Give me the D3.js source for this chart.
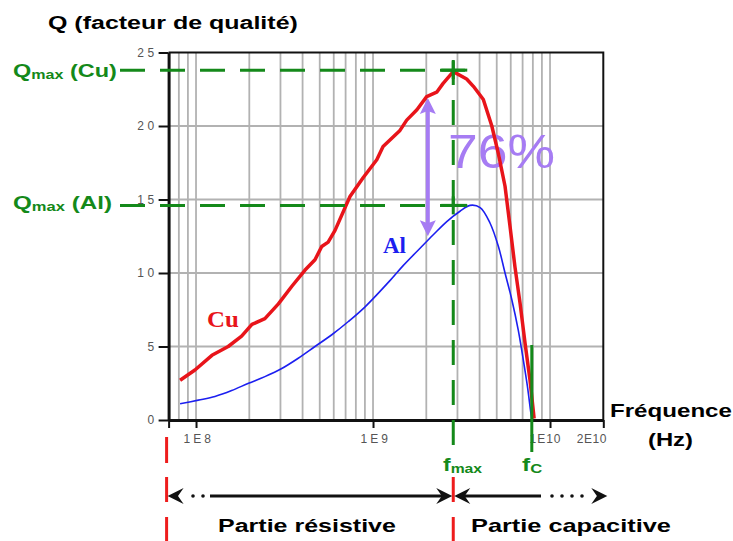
<!DOCTYPE html>
<html>
<head>
<meta charset="utf-8">
<script src="https://cdn.jsdelivr.net/npm/d3@7"></script>
<style>
  html, body { margin: 0; padding: 0; background: #fff; }
  svg { display: block; }
</style>
</head>
<body>
<svg id="chart" width="733" height="541"></svg>
<script>
// Quality factor Q of a copper and an aluminium line versus frequency (Hz)
const cuFreq = [8.13e7, 9.86e7, 1.23e8, 1.52e8, 1.81e8, 2.07e8, 2.45e8, 2.92e8, 3.48e8, 4.13e8,
                4.70e8, 5.13e8, 5.58e8, 6.10e8, 7.41e8, 8.81e8, 1.05e9, 1.14e9, 1.42e9, 1.55e9,
                1.77e9, 2.01e9, 2.29e9, 2.49e9, 2.84e9, 3.38e9, 3.69e9, 4.20e9, 4.69e9, 5.11e9,
                5.57e9, 5.94e9, 6.34e9, 6.78e9, 7.23e9, 7.71e9, 8.13e9];
const cuQ    = [2.7, 3.4, 4.4, 5.0, 5.7, 6.5, 6.9, 7.9, 9.1, 10.2,
                10.9, 11.8, 12.1, 12.9, 15.2, 16.5, 17.7, 18.6, 19.7, 20.4,
                21.1, 22.0, 22.3, 22.9, 23.7, 23.2, 22.7, 21.8, 20.0, 18.1,
                15.9, 13.2, 10.4, 7.9, 5.2, 2.7, 0.1];

const alFreq = [8.13e7, 1.03e8, 1.28e8, 1.59e8, 1.98e8, 2.45e8, 3.05e8, 3.78e8, 4.70e8, 5.85e8,
                7.26e8, 9.02e8, 1.25e9, 1.48e9, 1.85e9, 2.19e9, 2.61e9, 3.10e9, 3.53e9, 4.03e9,
                4.58e9, 5.11e9, 5.57e9, 6.08e9, 6.62e9, 7.06e9, 7.45e9, 7.78e9, 7.89e9];
const alQ    = [1.1, 1.35, 1.6, 2.0, 2.5, 2.95, 3.5, 4.2, 5.0, 5.8,
                6.7, 7.7, 9.5, 10.5, 11.7, 12.6, 13.5, 14.2, 14.6, 14.45,
                13.4, 11.8, 10.0, 8.2, 6.1, 4.1, 2.3, 0.55, 0.05];

// Axis ticks
const xTickValues = [7e7, 1e8, 1e9, 1e10, 2e10];
const xTickLabels = ["", "1E8", "1E9", "1E10", "2E10"];
const yTickValues = [0, 5, 10, 15, 20, 25];

// Marked values
const qmaxCu = 23.8;
const qmaxAl = 14.6;
const fmax = 2.84e9;
const fc = 7.89e9;
const gapFreq = 2.04e9;      // where the Cu / Al gap is measured
const gapLow = 12.5, gapHigh = 21.9;
const gapLabel = "76%";

const svg = d3.select("#chart");

const x = d3.scaleLog().domain([7e7, 2e10]).range([168.6, 603.3]);
const y = d3.scaleLinear().domain([0, 25]).range([420, 52.5]);

const GREEN = "#14891a", RED = "#e8141a", BLUE = "#1c1ff0", PURPLE = "#a67cf3";
const SANS = "'Liberation Sans', Arial, sans-serif";

// Text stretched horizontally to a given width (left edge, baseline)
function wideText(parent, left, baseline, width, parts, opts) {
  const g = parent.append("g");
  const t = g.append("text")
    .attr("x", 0).attr("y", 0)
    .attr("font-family", opts.family || SANS)
    .attr("font-weight", opts.weight || "bold")
    .attr("font-size", opts.size)
    .attr("fill", opts.fill || "#000");
  parts.forEach(p => {
    const s = t.append("tspan").text(p.text);
    if (p.size) s.attr("font-size", p.size);
    if (p.dy) s.attr("dy", p.dy);
  });
  const w = t.node().getBBox().width;
  g.attr("transform", `translate(${left},${baseline}) scale(${width / w},1)`);
  return g;
}

// Grid
const grid = svg.append("g");
grid.selectAll("line.v")
  .data(x.ticks().filter(d => d > 7e7 && d < 2e10))
  .join("line")
  .attr("x1", d => x(d)).attr("x2", d => x(d))
  .attr("y1", y(25)).attr("y2", y(0))
  .attr("stroke", "#b2b2b2").attr("stroke-width", 1.8);
grid.selectAll("line.h")
  .data([5, 10, 15, 20])
  .join("line")
  .attr("x1", x.range()[0]).attr("x2", x.range()[1])
  .attr("y1", d => y(d)).attr("y2", d => y(d))
  .attr("stroke", "#b2b2b2").attr("stroke-width", 1.8);

// Frame (top and right)
svg.append("path")
  .attr("d", `M${x.range()[0]},${y(25)}H${x.range()[1]}V${y(0)}`)
  .attr("fill", "none").attr("stroke", "#111").attr("stroke-width", 2);

// Axes
const yAxis = svg.append("g")
  .attr("transform", `translate(${x.range()[0]},0)`)
  .call(d3.axisLeft(y).tickValues(yTickValues).tickSize(10).tickSizeOuter(0).tickPadding(4));
yAxis.select(".domain").attr("stroke", "#111").attr("stroke-width", 3);
yAxis.selectAll(".tick line").attr("stroke", "#111").attr("stroke-width", 2);
yAxis.selectAll(".tick text")
  .attr("font-family", SANS).attr("font-size", 12).attr("fill", "#555")
  .attr("letter-spacing", 3.5).attr("dx", 3);

const xAxis = svg.append("g")
  .attr("transform", `translate(0,${y(0)})`)
  .call(d3.axisBottom(x).tickValues(xTickValues).tickSize(8).tickSizeOuter(0).tickPadding(6)
    .tickFormat((d, i) => xTickLabels[i]));
xAxis.select(".domain").attr("stroke", "#111").attr("stroke-width", 3);
xAxis.selectAll(".tick line").attr("stroke", "#111").attr("stroke-width", 2);
// labels of the last decade are set tighter so they fit before the frame edge
const xLabelSpacing = [3, 3, 3, 1, 0.5];
const xLabelShift = [0, -13, -13, -21, -27];
xAxis.selectAll(".tick text")
  .attr("font-family", SANS).attr("fill", "#555").attr("font-size", 12)
  .attr("letter-spacing", (d, i) => xLabelSpacing[i])
  .attr("text-anchor", "start")
  .attr("dx", (d, i) => xLabelShift[i]);

// Percentage label behind the curves
wideText(svg, 448, 168, 107, [{ text: gapLabel }], { size: 48, weight: "normal", fill: PURPLE });

// Curves
const lineGen = d3.line().x(d => x(d[0])).y(d => y(d[1]));
svg.append("path")
  .datum(alFreq.map((f, i) => [f, alQ[i]]))
  .attr("d", lineGen.curve(d3.curveCatmullRom))
  .attr("fill", "none").attr("stroke", BLUE).attr("stroke-width", 1.6);
svg.append("path")
  .datum(cuFreq.map((f, i) => [f, cuQ[i]]))
  .attr("d", lineGen.curve(d3.curveLinear))
  .attr("fill", "none").attr("stroke", RED).attr("stroke-width", 3.5)
  .attr("stroke-linejoin", "round");

// Series labels
wideText(svg, 207, 327, 32, [{ text: "Cu" }], { size: 23, family: "'Liberation Serif', serif", fill: RED });
wideText(svg, 383, 253, 23, [{ text: "Al" }], { size: 23, family: "'Liberation Serif', serif", fill: BLUE });

// Green reference lines for Qmax and fmax
const dash = "25,15";
[qmaxCu, qmaxAl].forEach(q => {
  svg.append("line")
    .attr("x1", 120).attr("x2", 466)
    .attr("y1", y(q)).attr("y2", y(q))
    .attr("stroke", GREEN).attr("stroke-width", 3).attr("stroke-dasharray", dash);
  // cross marks where the reference lines meet
  svg.append("line")
    .attr("x1", x(fmax) - 12).attr("x2", x(fmax) + 14)
    .attr("y1", y(q)).attr("y2", y(q))
    .attr("stroke", GREEN).attr("stroke-width", 3);
  svg.append("line")
    .attr("x1", x(fmax)).attr("x2", x(fmax))
    .attr("y1", y(q) - 9).attr("y2", y(q) + 9)
    .attr("stroke", GREEN).attr("stroke-width", 3);
});
svg.append("line")
  .attr("x1", x(fmax)).attr("x2", x(fmax))
  .attr("y1", 60).attr("y2", 445)
  .attr("stroke", GREEN).attr("stroke-width", 3).attr("stroke-dasharray", dash);
svg.append("line")
  .attr("x1", x(fc)).attr("x2", x(fc))
  .attr("y1", 345).attr("y2", 452)
  .attr("stroke", GREEN).attr("stroke-width", 3);

// Purple double arrow showing the gap
const ax = x(gapFreq), aTop = y(gapHigh), aBot = y(gapLow);
svg.append("line")
  .attr("x1", ax).attr("x2", ax).attr("y1", aTop + 12).attr("y2", aBot - 12)
  .attr("stroke", PURPLE).attr("stroke-width", 4);
svg.append("path")
  .attr("d", `M${ax},${aTop}L${ax - 8},${aTop + 16}L${ax},${aTop + 13}L${ax + 8},${aTop + 16}Z`)
  .attr("fill", PURPLE);
svg.append("path")
  .attr("d", `M${ax},${aBot}L${ax - 8},${aBot - 16}L${ax},${aBot - 13}L${ax + 8},${aBot - 16}Z`)
  .attr("fill", PURPLE);

// Text labels
wideText(svg, 48, 29, 250, [{ text: "Q (facteur de qualité)" }], { size: 19 });
wideText(svg, 13, 77, 104,
  [{ text: "Q" }, { text: "max", size: 13, dy: 2 }, { text: " (Cu)", dy: -2 }], { size: 19, fill: GREEN });
wideText(svg, 13, 209, 99,
  [{ text: "Q" }, { text: "max", size: 13, dy: 2 }, { text: " (Al)", dy: -2 }], { size: 19, fill: GREEN });
wideText(svg, 610, 417, 122, [{ text: "Fréquence" }], { size: 19 });
wideText(svg, 648, 446, 45, [{ text: "(Hz)" }], { size: 19 });
wideText(svg, 443, 471, 40, [{ text: "f" }, { text: "max", size: 13, dy: 2 }], { size: 19, fill: GREEN });
wideText(svg, 522, 471, 21, [{ text: "f" }, { text: "C", size: 13, dy: 2 }], { size: 19, fill: GREEN });
wideText(svg, 218, 532, 178, [{ text: "Partie résistive" }], { size: 19 });
wideText(svg, 471, 532, 200, [{ text: "Partie capacitive" }], { size: 19 });

// Red dashed boundaries between the two regions
const xL = x.range()[0] - 2, xM = x(fmax);
[[xL, 437, 463], [xL, 477, 502], [xL, 517, 541], [xM, 477, 502], [xM, 517, 541]].forEach(s => {
  svg.append("line")
    .attr("x1", s[0]).attr("x2", s[0]).attr("y1", s[1]).attr("y2", s[2])
    .attr("stroke", "#ee1c1c").attr("stroke-width", 3);
});

// Black region arrows
const ay = 496;
function head(tipX, dir) {
  // dir = -1 points left, +1 points right
  const L = 16, Wd = 8;
  svg.append("path")
    .attr("d", `M${tipX},${ay}L${tipX - dir * L},${ay - Wd}L${tipX - dir * L * 0.65},${ay}L${tipX - dir * L},${ay + Wd}Z`)
    .attr("fill", "#111");
}
const xR = x.range()[1] + 4;
head(xL + 1, -1);
head(xM - 1, 1);
head(xM + 1, -1);
head(xR, 1);
svg.append("line").attr("x1", 210).attr("x2", xM - 10).attr("y1", ay).attr("y2", ay)
  .attr("stroke", "#111").attr("stroke-width", 3);
svg.append("line").attr("x1", xM + 10).attr("x2", 541).attr("y1", ay).attr("y2", ay)
  .attr("stroke", "#111").attr("stroke-width", 3);
svg.selectAll("circle.dot")
  .data([193, 203, 552, 562, 572, 582])
  .join("circle")
  .attr("cx", d => d).attr("cy", ay).attr("r", 1.8).attr("fill", "#111");
</script>
</body>
</html>
